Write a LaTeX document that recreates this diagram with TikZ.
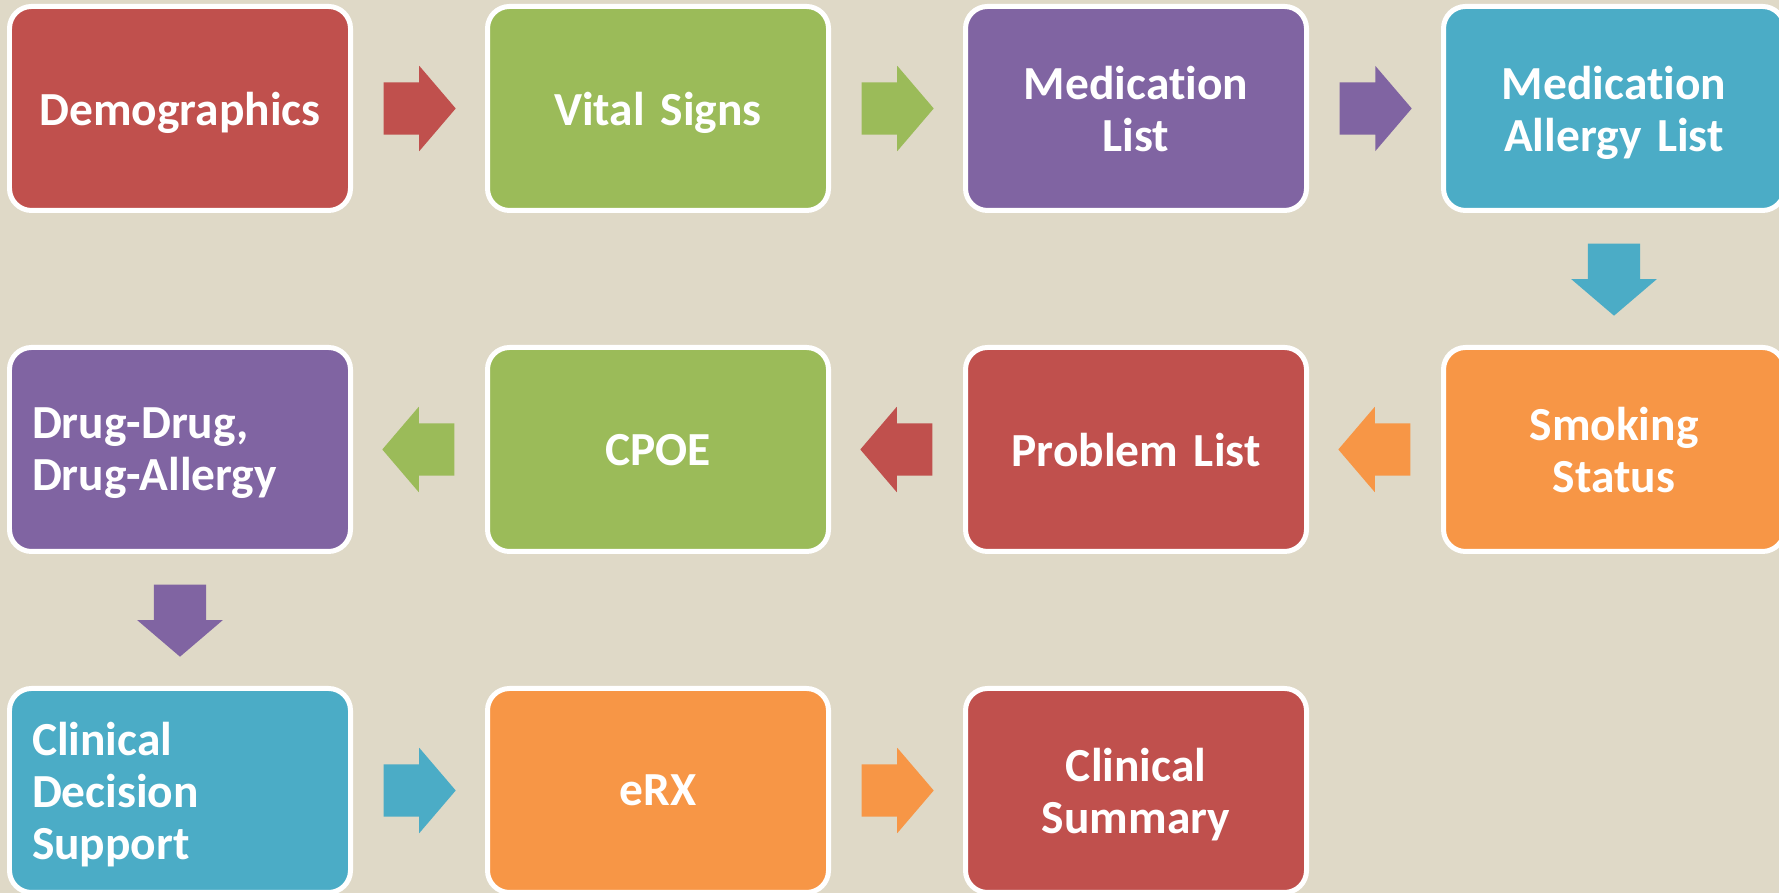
\documentclass[tikz,border=0pt]{standalone}
\usepackage{fontspec}
\setmainfont{Carlito}[Ligatures=NoCommon, WordSpace=0.85]
\usetikzlibrary{shapes.arrows,calc}

\definecolor{bgtan}{HTML}{DFD9C7}
\definecolor{stepred}{HTML}{C0504D}
\definecolor{stepgreen}{HTML}{9BBB59}
\definecolor{steppurple}{HTML}{8064A2}
\definecolor{stepblue}{HTML}{4BACC6}
\definecolor{steporange}{HTML}{F79646}

\begin{document}
\begin{tikzpicture}
    \tikzset{
        stepbox/.style={
            draw=white, line width=1.42pt, fill=#1,
            rounded corners=0.22cm,
            minimum width=3.41cm, minimum height=2.04cm,
            text width=2.96cm, inner xsep=0.225cm, inner ysep=0pt,
            text depth=0pt,
            align=center, text=white,
            font=\fontsize{13.5}{14.8}\selectfont\bfseries,
        },
        leftbox/.style={stepbox=#1, align=left},
        twolines/.style={text depth=14.8pt},
        threelines/.style={text depth=29.6pt},
        flowarrow/.style={
            single arrow, fill=#1, draw=none, anchor=tail,
            minimum height=0.72cm,
            single arrow head extend=0.165cm,
            single arrow tip angle=99,
        },
        flowright/.style={flowarrow=#1, inner xsep=0pt, inner ysep=0.255cm,
            xshift=-0.36cm},
        flowleft/.style={flowarrow=#1, inner xsep=0pt, inner ysep=0.255cm,
            shape border rotate=180, xshift=0.36cm},
        flowdown/.style={flowarrow=#1, inner xsep=0.255cm, inner ysep=0pt,
            shape border rotate=270, yshift=0.36cm},
    }

    % Background
    \fill[bgtan] (0,0) rectangle (17.79,8.93);
    \useasboundingbox (0,0) rectangle (17.79,8.93);

    % Steps, first row
    \node[stepbox=stepred]              (demo)    at (1.80,7.845)  {Demographics};
    \node[stepbox=stepgreen]            (vital)   at (6.58,7.845)  {Vital Signs};
    \node[stepbox=steppurple, twolines] (medlist) at (11.36,7.845) {Medication\\List};
    \node[stepbox=stepblue, twolines]   (allergy) at (16.14,7.845) {Medication\\Allergy List};

    % Steps, second row
    \node[stepbox=steporange, twolines] (smoking) at (16.14,4.435) {Smoking\\Status};
    \node[stepbox=stepred]              (problem) at (11.36,4.435) {Problem List};
    \node[stepbox=stepgreen]            (cpoe)    at (6.58,4.435)  {CPOE};
    \node[leftbox=steppurple, twolines] (drugs)   at (1.80,4.435)  {Drug-Drug,\\Drug-Allergy};

    % Steps, third row
    \node[leftbox=stepblue, threelines] (cds)     at (1.80,1.025)  {Clinical\\Decision\\Support};
    \node[stepbox=steporange]           (erx)     at (6.58,1.025)  {eRX};
    \node[stepbox=stepred, twolines]    (summary) at (11.36,1.025) {Clinical\\Summary};

    % Arrows
    \node[flowright=stepred]    (a1) at ($(demo)!0.5!(vital)$) {};
    \node[flowright=stepgreen]  (a2) at ($(vital)!0.5!(medlist)$) {};
    \node[flowright=steppurple] (a3) at ($(medlist)!0.5!(allergy)$) {};
    \node[flowdown=stepblue]    (a4) at ($(allergy)!0.5!(smoking)$) {};
    \node[flowleft=steporange]  (a5) at ($(smoking)!0.5!(problem)$) {};
    \node[flowleft=stepred]     (a6) at ($(problem)!0.5!(cpoe)$) {};
    \node[flowleft=stepgreen]   (a7) at ($(cpoe)!0.5!(drugs)$) {};
    \node[flowdown=steppurple]  (a8) at ($(drugs)!0.5!(cds)$) {};
    \node[flowright=stepblue]   (a9)  at ($(cds)!0.5!(erx)$) {};
    \node[flowright=steporange] (a10) at ($(erx)!0.5!(summary)$) {};
\end{tikzpicture}
\end{document}
